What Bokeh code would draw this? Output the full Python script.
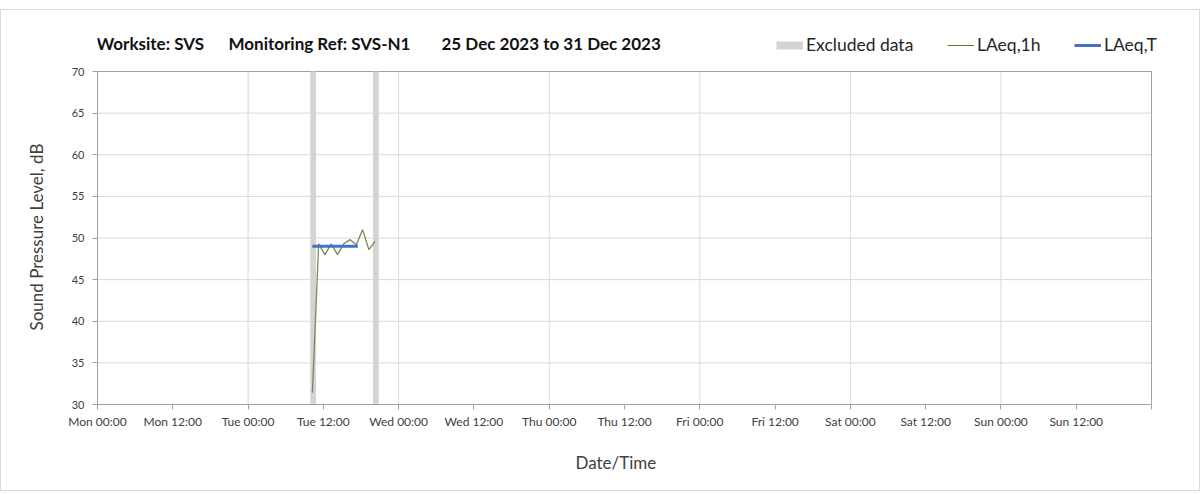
import pandas as pd
from bokeh.plotting import figure
from bokeh.models import (Range1d, FixedTicker, Label, Legend, LegendItem, Title)
from bokeh.embed import file_html
from bokeh.resources import INLINE

# ---------------- data ----------------
start = "2023-12-25 00:00"
title_parts = ["Worksite: SVS", "Monitoring Ref: SVS-N1", "25 Dec 2023 to 31 Dec 2023"]
x_title = "Date/Time"
y_title = "Sound Pressure Level, dB"
tick_labels = ["Mon 00:00", "Mon 12:00", "Tue 00:00", "Tue 12:00", "Wed 00:00",
               "Wed 12:00", "Thu 00:00", "Thu 12:00", "Fri 00:00", "Fri 12:00",
               "Sat 00:00", "Sat 12:00", "Sun 00:00", "Sun 12:00", ""]
hour_times = ["2023-12-26 10:15", "2023-12-26 11:15", "2023-12-26 12:15",
              "2023-12-26 13:15", "2023-12-26 14:15", "2023-12-26 15:15",
              "2023-12-26 16:15", "2023-12-26 17:15", "2023-12-26 18:15",
              "2023-12-26 19:15", "2023-12-26 20:15"]
laeq_1h = [31.4, 49.3, 48.0, 49.3, 48.0, 49.3, 49.8, 49.2, 51.0, 48.6, 49.6]
laeq_t_start = ["2023-12-26 10:15"]
laeq_t_end = ["2023-12-26 17:30"]
laeq_t = [49.0]
excl_start = ["2023-12-26 09:55", "2023-12-26 19:55"]
excl_end = ["2023-12-26 10:50", "2023-12-26 20:50"]
y_min, y_max = 30, 70
x_min, x_max = 0, 168
x_days = [24, 48, 72, 96, 120, 144]
y_levels = [35, 40, 45, 50, 55, 60, 65]

t0 = pd.Timestamp(start)
def hrs(lst):
    return [(pd.Timestamp(s) - t0).total_seconds() / 3600.0 for s in lst]

FONT = "Lato"
GREEN = "#6f8c55"
BLUE = "#4472c4"
GREY_BAND = "#d4d4d4"
GRID = "#d9d9d9"
AXIS = "#a0a0a0"

# page geometry (content origin at page (1,10))
W, H = 1200, 482
ORIG_X, ORIG_Y = 1, 10
PLOT_L, PLOT_T, PLOT_R, PLOT_B = 96, 71, 1151, 404      # axes box in the page
FRAME_T, FRAME_R = 21, 1192                               # frame incl. headroom
px_per_db = (PLOT_B - PLOT_T) / (y_max - y_min)
px_per_h = (PLOT_R - PLOT_L) / (x_max - x_min)
y_top = y_min + (PLOT_B - FRAME_T) / px_per_db
x_right = x_min + (FRAME_R - PLOT_L) / px_per_h

p = figure(width=W, height=H, output_backend="svg", toolbar_location=None,
           x_range=Range1d(x_min, x_right), y_range=Range1d(y_min, y_top),
           min_border_left=PLOT_L - ORIG_X, min_border_top=FRAME_T - ORIG_Y,
           min_border_right=W - (FRAME_R - ORIG_X),
           min_border_bottom=H - (PLOT_B - ORIG_Y))
p.styles = {"border": "1px solid #d9d9d9", "margin-left": "0px", "margin-top": "9px"}
p.outline_line_color = None
p.background_fill_color = "white"
p.border_fill_color = "white"

# grids (drawn as bounded segments)
p.xgrid.visible = False
p.ygrid.visible = False
p.segment(x0=x_days, x1=x_days, y0=y_min, y1=y_max, line_color=GRID, line_width=1)
p.segment(x0=x_min, x1=x_max, y0=y_levels, y1=y_levels, line_color=GRID, line_width=1)
# plot-area border (top and right)
p.segment(x0=[x_min, x_max], x1=[x_max, x_max], y0=[y_max, y_min], y1=[y_max, y_max],
          line_color=AXIS, line_width=1)

# axes
xticks = [12 * i for i in range(len(tick_labels))]
p.xaxis.ticker = FixedTicker(ticks=xticks)
p.xaxis.major_label_overrides = {t: lab for t, lab in zip(xticks, tick_labels)}
p.xaxis.bounds = (x_min, x_max)
p.yaxis.ticker = FixedTicker(ticks=list(range(y_min, y_max + 1, 5)))
p.yaxis.bounds = (y_min, y_max)
for ax in (p.xaxis[0], p.yaxis[0]):
    ax.axis_line_color = AXIS
    ax.major_tick_line_color = AXIS
    ax.minor_tick_line_color = None
    ax.major_tick_in = 0
    ax.major_tick_out = 5
    ax.major_label_text_font = FONT
    ax.major_label_text_color = "#404040"
p.xaxis.major_label_text_font_size = "12px"
p.yaxis.major_label_text_font_size = "11px"
p.xaxis.major_label_standoff = 4
p.yaxis.major_label_standoff = 8

# axis titles (positioned like the reference)
p.add_layout(Title(text=y_title, align="left", offset=PLOT_B - 330,
                   text_font=FONT, text_font_size="17px", text_font_style="normal",
                   text_color="#404040", standoff=44), "left")
p.add_layout(Title(text=x_title, align="left", offset=574 - PLOT_L,
                   text_font=FONT, text_font_size="17px", text_font_style="normal",
                   text_color="#404040", standoff=37), "below")

# excluded bands
p.quad(left=hrs(excl_start), right=hrs(excl_end), bottom=y_min, top=y_max,
       fill_color=GREY_BAND, line_color=None)

# LAeq,1h
p.line(hrs(hour_times), laeq_1h, line_color=GREEN, line_width=1.3)

# LAeq,T
p.segment(x0=hrs(laeq_t_start), x1=hrs(laeq_t_end), y0=laeq_t, y1=laeq_t,
          line_color=BLUE, line_width=3)

# legend proxies (data kept outside the visible range)
proxy_excl = p.line([-20, -10], [0, 0], line_color=GREY_BAND, line_width=8)
proxy_1h = p.line([-20, -10], [0, 0], line_color="#5a7a40", line_width=1)
proxy_t = p.line([-20, -10], [0, 0], line_color=BLUE, line_width=3)

leg_items = [("Excluded data", proxy_excl, 775),
             ("LAeq,1h", proxy_1h, 946),
             ("LAeq,T", proxy_t, 1073)]
for lab, rend, px in leg_items:
    lg = Legend(items=[LegendItem(label=lab, renderers=[rend])],
                location=(px - PLOT_L, PLOT_B - 55),
                padding=0, margin=0, spacing=0,
                glyph_width=27, glyph_height=20, label_standoff=3,
                border_line_color=None, background_fill_alpha=0,
                label_text_font=FONT, label_text_font_size="17.5px",
                label_text_color="#262626")
    p.add_layout(lg, "center")

# title parts
title_x = [95, 227, 440]
for txt, tx in zip(title_parts, title_x):
    p.add_layout(Label(x=tx - PLOT_L, y=PLOT_B - 43,
                       x_units="screen", y_units="screen", text=txt,
                       text_font=FONT, text_font_style="bold",
                       text_font_size="17px", text_color="#111111",
                       text_baseline="middle", text_align="left"))

open("out.html", "w").write(file_html(p, INLINE))
